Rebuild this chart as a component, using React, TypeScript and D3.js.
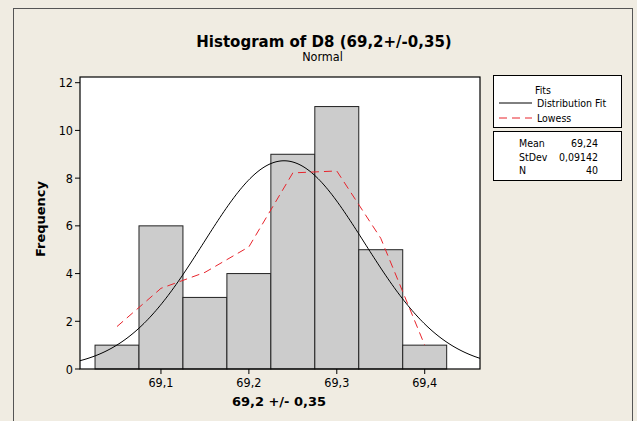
import React from "react";
import * as d3 from "d3";

const binCenters = [69.05, 69.1, 69.15, 69.2, 69.25, 69.3, 69.35, 69.4];
const binCounts = [1, 6, 3, 4, 9, 11, 5, 1];
const lowessX = [69.05, 69.1, 69.15, 69.2, 69.25, 69.3, 69.35, 69.4];
const lowessY = [1.78, 3.38, 4.05, 5.12, 8.22, 8.3, 5.48, 1.0];
const xTicks = [69.1, 69.2, 69.3, 69.4];
const yTicks = [0, 2, 4, 6, 8, 10, 12];
const statLabels = ["Mean", "StDev", "N"];
const statValues = ["69,24", "0,09142", "40"];
const mean = 69.24;
const stdev = 0.09142;
const n = 40;
const binWidth = 0.05;

const W = 637, H = 421;
const L = 80, R = 480, T = 77, B = 369;
const X0 = 69.0079, X1 = 69.4629;
const font = "'DejaVu Sans Condensed', 'DejaVu Sans', sans-serif";
const boldFont = "'DejaVu Sans', sans-serif";

export default function App() {
  const x = d3.scaleLinear().domain([X0, X1]).range([L, R]);
  const y = d3.scaleLinear().domain([0, 12]).range([B, 82.7]);
  const fmt = (v: number) => v.toFixed(1).replace(".", ",");

  const normPts = d3.range(0, 201).map((i) => {
    const xv = X0 + ((X1 - X0) * i) / 200;
    const z = (xv - mean) / stdev;
    const d = (n * binWidth) / (stdev * Math.sqrt(2 * Math.PI)) * Math.exp(-0.5 * z * z);
    return [x(xv), y(d)] as [number, number];
  });
  const line = d3.line<[number, number]>();
  const lowPts = lowessX.map((v, i) => [x(v), y(lowessY[i])] as [number, number]);

  return (
    <svg width={W} height={H} style={{ position: "absolute", left: 0, top: 0, display: "block" }}>
      <rect x={0} y={0} width={W} height={H} fill="#f0ece2" />
      <rect x={13.5} y={8.5} width={619} height={420} fill="none" stroke="#555" strokeWidth={1} />
      <text x={324} y={46.5} textAnchor="middle" fontFamily={boldFont} fontWeight="bold" fontSize={15} fill="#000">
        Histogram of D8 (69,2+/-0,35)
      </text>
      <text x={322.5} y={61} textAnchor="middle" fontFamily={font} fontSize={12.5} fill="#000">Normal</text>

      <rect x={L} y={T} width={R - L} height={B - T} fill="#fff" />
      <defs>
        <clipPath id="plotclip">
          <rect x={L} y={T} width={R - L} height={B - T} />
        </clipPath>
      </defs>
      {binCenters.map((c, i) => (
        <rect key={i} x={x(c - binWidth / 2)} y={y(binCounts[i])}
          width={x(c + binWidth / 2) - x(c - binWidth / 2)} height={B - y(binCounts[i])}
          fill="#cccccc" stroke="#222" strokeWidth={1} />
      ))}
      <g clipPath="url(#plotclip)">
        <path d={line(normPts) || ""} fill="none" stroke="#000" strokeWidth={1} />
        <path d={line(lowPts) || ""} fill="none" stroke="#e8242c" strokeWidth={1} strokeDasharray="8,5" />
      </g>
      <rect x={L} y={T} width={R - L} height={B - T} fill="none" stroke="#000" strokeWidth={1.2} />

      {yTicks.map((t) => (
        <g key={t}>
          <line x1={L - 5} x2={L} y1={y(t)} y2={y(t)} stroke="#000" />
          <text x={L - 7} y={y(t) + 4.5} textAnchor="end" fontFamily={font} fontSize={12.5}>{t}</text>
        </g>
      ))}
      {xTicks.map((t) => (
        <g key={t}>
          <line x1={x(t)} x2={x(t)} y1={B} y2={B + 5} stroke="#000" />
          <text x={x(t)} y={B + 18} textAnchor="middle" fontFamily={font} fontSize={12.5}>{fmt(t)}</text>
        </g>
      ))}
      <text x={279} y={405.5} textAnchor="middle" fontFamily={boldFont} fontWeight="bold" fontSize={13}>69,2 +/- 0,35</text>
      <text transform={`translate(44.5,219) rotate(-90)`} textAnchor="middle" fontFamily={boldFont} fontWeight="bold" fontSize={13}>Frequency</text>

      <rect x={493.5} y={75.5} width={128} height={52} fill="#fff" stroke="#000" />
      <text x={535} y={94} fontFamily={font} fontSize={10.5}>Fits</text>
      <line x1={499} x2={532} y1={103} y2={103} stroke="#000" />
      <text x={537} y={107} fontFamily={font} fontSize={10.5}>Distribution Fit</text>
      <line x1={499} x2={532} y1={118} y2={118} stroke="#e8242c" strokeDasharray="8,5" />
      <text x={537} y={122} fontFamily={font} fontSize={10.5}>Lowess</text>

      <rect x={493.5} y={131.5} width={128} height={49} fill="#fff" stroke="#000" />
      {statLabels.map((s, i) => (
        <g key={s}>
          <text x={519} y={147 + i * 13.5} fontFamily={font} fontSize={10.5}>{s}</text>
          <text x={598} y={147 + i * 13.5} textAnchor="end" fontFamily={font} fontSize={10.5}>{statValues[i]}</text>
        </g>
      ))}
    </svg>
  );
}
